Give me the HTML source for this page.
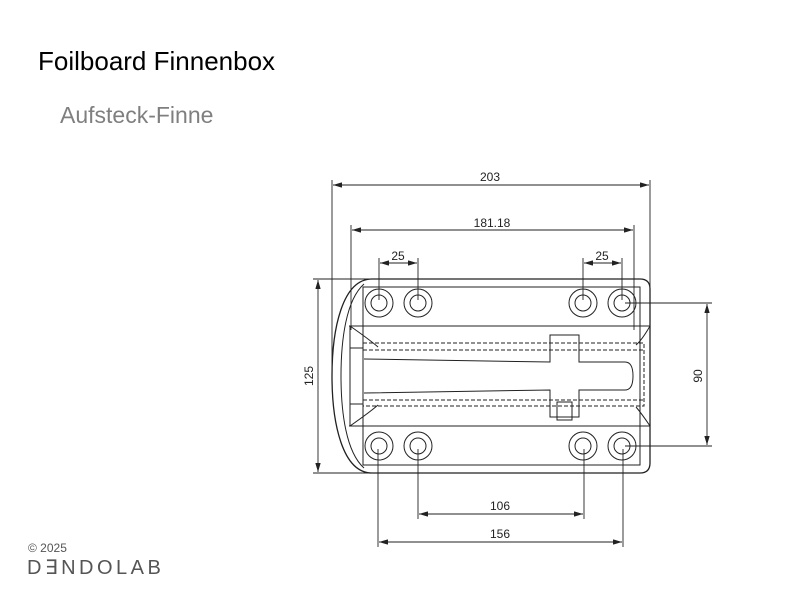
<!DOCTYPE html><html><head><meta charset="utf-8"><style>
body{margin:0;width:800px;height:600px;background:#fff;overflow:hidden;font-family:"Liberation Sans",sans-serif;position:relative}
.t{position:absolute;left:38px;top:46px;font-size:26px;color:#000}
.s{position:absolute;left:60px;top:102px;font-size:23px;color:#7f7f7f}
.c{position:absolute;left:28px;top:541px;font-size:12px;color:#555}
.l{position:absolute;left:27px;top:555px;font-size:20px;color:#555;letter-spacing:3.5px;font-weight:300}
</style></head><body>
<div class="t">Foilboard Finnenbox</div>
<div class="s">Aufsteck-Finne</div>
<div class="c">© 2025</div>
<div class="l">D∃NDOLAB</div>
<svg width="800" height="600" style="position:absolute;left:0;top:0" font-family="Liberation Sans" font-size="12" fill="none" stroke="#222" stroke-width="1">
<defs><marker id="a" viewBox="0 0 10 6" refX="10" refY="3" markerWidth="10" markerHeight="6" orient="auto-start-reverse"><path d="M0,0L10,3L0,6z" fill="#222" stroke="none"/></marker></defs>
<path d="M372,279 H640 Q650,279 650,289 V463 Q650,473 640,473 H372 C342,473 332,422 332,376 C332,330 342,279 372,279 Z" stroke-width="1.3"/>
<path d="M364,284 C346,300 341,340 341,376 C341,412 346,452 364,468" />
<rect x="363" y="287" width="277" height="178"/>
<line x1="349" y1="326" x2="650" y2="326"/><line x1="349" y1="426" x2="650" y2="426"/>
<line x1="350" y1="326" x2="350" y2="426"/>
<rect x="350" y="348" width="13" height="56"/>
<path d="M350,326 Q370,340 378,347 M350,426 Q370,412 378,405 M650,326 Q642,340 636,345 M650,426 Q642,414 636,407"/>
<rect x="363" y="343" width="281" height="63" stroke-dasharray="4,2"/>
<line x1="363" y1="350" x2="644" y2="350" stroke-dasharray="4,2"/>
<line x1="363" y1="400" x2="644" y2="400" stroke-dasharray="4,2"/>
<path d="M364,359 L550,362 V335 H579 V362 L625,362 Q633,362 633,376 Q633,390 625,390 L579,390 V417 H550 V390 L364,393"/>
<rect x="557" y="402" width="15" height="18"/>
<g>
<circle cx="379" cy="303" r="14"/><circle cx="379" cy="303" r="8"/>
<circle cx="418" cy="303" r="14"/><circle cx="418" cy="303" r="8"/>
<circle cx="583" cy="303" r="14"/><circle cx="583" cy="303" r="8"/>
<circle cx="622" cy="303" r="14"/><circle cx="622" cy="303" r="8"/>
<circle cx="379" cy="446" r="14"/><circle cx="379" cy="446" r="8"/>
<circle cx="418" cy="446" r="14"/><circle cx="418" cy="446" r="8"/>
<circle cx="583" cy="446" r="14"/><circle cx="583" cy="446" r="8"/>
<circle cx="622" cy="446" r="14"/><circle cx="622" cy="446" r="8"/>
</g>
<g stroke-width="0.9">
<line x1="332" y1="180" x2="332" y2="376"/><line x1="650" y1="180" x2="650" y2="330"/>
<line x1="333" y1="185" x2="649" y2="185" marker-start="url(#a)" marker-end="url(#a)"/>
<line x1="351" y1="225" x2="351" y2="330"/><line x1="634" y1="225" x2="634" y2="330"/>
<line x1="352" y1="230" x2="633" y2="230" marker-start="url(#a)" marker-end="url(#a)"/>
<line x1="379" y1="258" x2="379" y2="300"/><line x1="418" y1="258" x2="418" y2="300"/>
<line x1="583" y1="258" x2="583" y2="300"/><line x1="622" y1="258" x2="622" y2="300"/>
<line x1="380" y1="263" x2="417" y2="263" marker-start="url(#a)" marker-end="url(#a)"/>
<line x1="584" y1="263" x2="621" y2="263" marker-start="url(#a)" marker-end="url(#a)"/>
<line x1="313" y1="279" x2="372" y2="279"/><line x1="313" y1="473" x2="372" y2="473"/>
<line x1="318" y1="280" x2="318" y2="472" marker-start="url(#a)" marker-end="url(#a)"/>
<line x1="625" y1="303" x2="712" y2="303"/><line x1="625" y1="446" x2="712" y2="446"/>
<line x1="707" y1="304" x2="707" y2="445" marker-start="url(#a)" marker-end="url(#a)"/>
<line x1="418" y1="449" x2="418" y2="519"/><line x1="584" y1="449" x2="584" y2="519"/>
<line x1="419" y1="514" x2="583" y2="514" marker-start="url(#a)" marker-end="url(#a)"/>
<line x1="378" y1="449" x2="378" y2="547"/><line x1="623" y1="449" x2="623" y2="547"/>
<line x1="379" y1="542" x2="622" y2="542" marker-start="url(#a)" marker-end="url(#a)"/>
</g>
<g fill="#222" stroke="none" text-anchor="middle">
<text x="490" y="181">203</text>
<text x="492" y="227">181.18</text>
<text x="398" y="260">25</text>
<text x="602" y="260">25</text>
<text x="500" y="510">106</text>
<text x="500" y="538">156</text>
<text transform="translate(313,376) rotate(-90)">125</text>
<text transform="translate(702,376) rotate(-90)">90</text>
</g>
</svg>
</body></html>
